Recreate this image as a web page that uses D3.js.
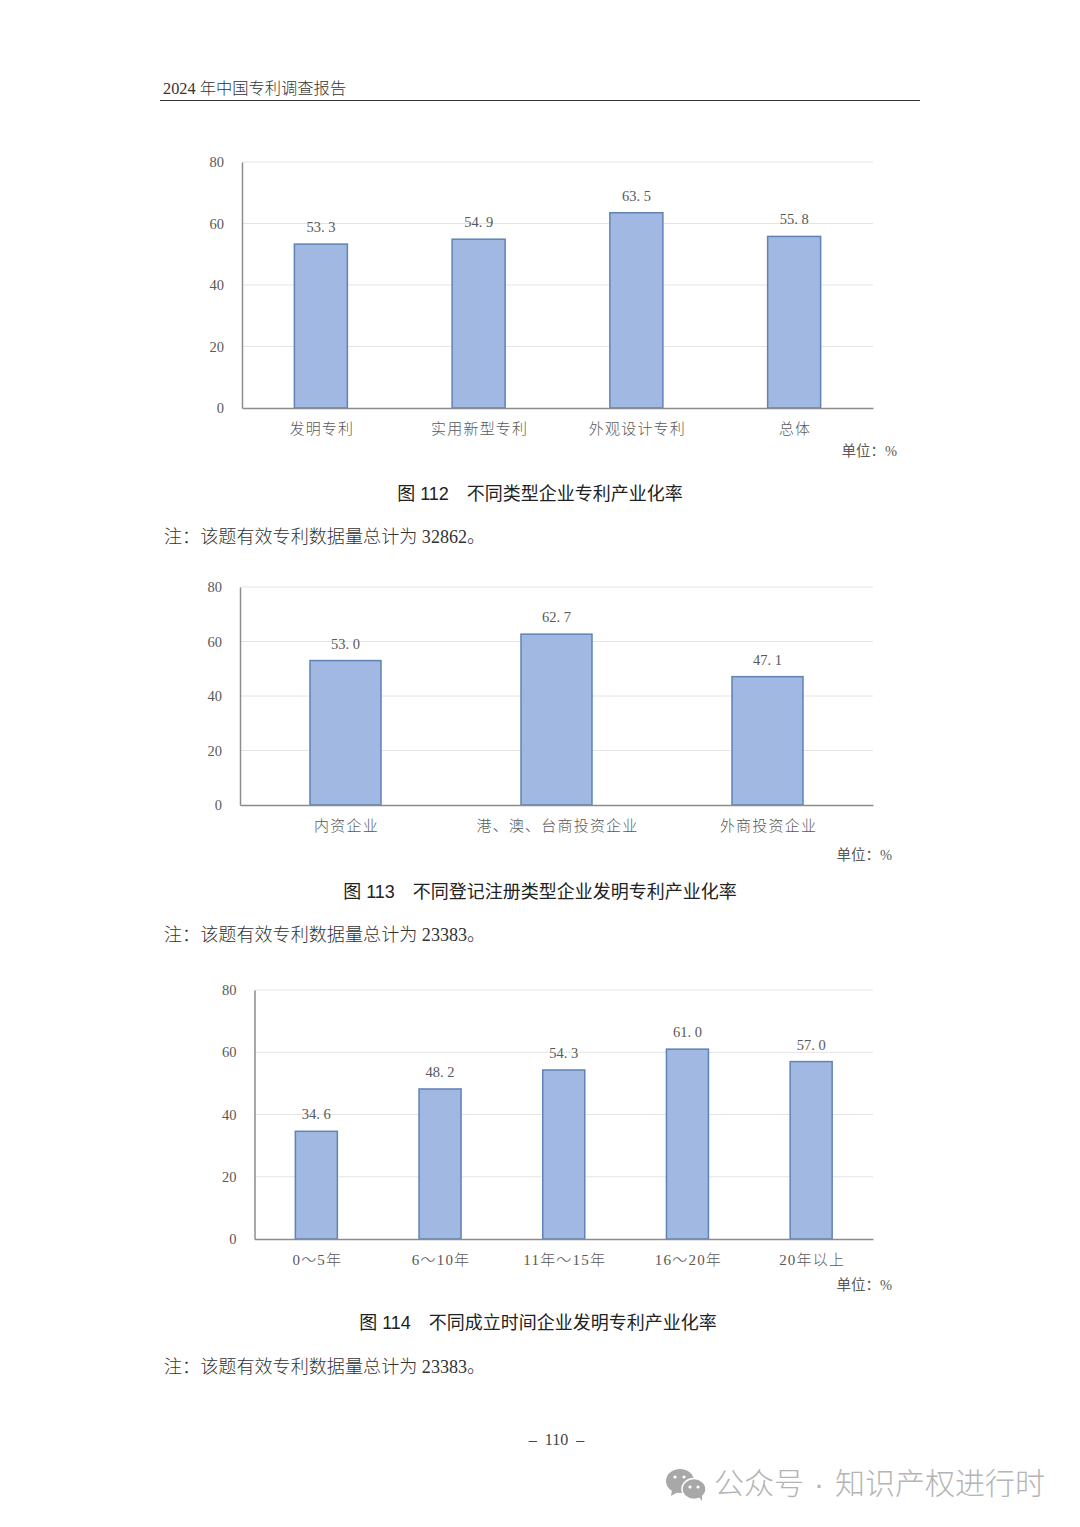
<!DOCTYPE html>
<html>
<head>
<meta charset="utf-8">
<script src="https://cdn.jsdelivr.net/npm/d3@7"></script>
<style>
  html, body { margin: 0; padding: 0; background: #fff; }
  svg { display: block; }
  text { font-family: "Liberation Serif", "Noto Sans CJK SC", serif; }
  .tick text { fill: #595959; }
</style>
</head>
<body>
<svg id="page" width="1080" height="1527"></svg>
<script>
const typeCats = ["发明专利", "实用新型专利", "外观设计专利", "总体"];
const typeVals = [53.3, 54.9, 63.5, 55.8];
const typeLabels = ["53. 3", "54. 9", "63. 5", "55. 8"];

const regCats = ["内资企业", "港、澳、台商投资企业", "外商投资企业"];
const regVals = [53.0, 62.7, 47.1];
const regLabels = ["53. 0", "62. 7", "47. 1"];

const ageCats = ["0～5年", "6～10年", "11年～15年", "16～20年", "20年以上"];
const ageVals = [34.6, 48.2, 54.3, 61.0, 57.0];
const ageLabels = ["34. 6", "48. 2", "54. 3", "61. 0", "57. 0"];

const yTicks = [0, 20, 40, 60, 80];

const svg = d3.select("#page");

// one chart of the page, box is the plot area in page pixels
function drawChart(cats, vals, labels, box, barW, unitX, unitY) {
  const x = d3.scaleBand(cats, [box.left, box.right]);
  const y = d3.scaleLinear([0, 80], [box.bottom, box.top]);
  const g = svg.append("g");

  // grid
  g.append("g").selectAll("line")
    .data(yTicks.slice(1))
    .join("line")
      .attr("x1", box.left)
      .attr("x2", box.right)
      .attr("y1", d => y(d))
      .attr("y2", d => y(d))
      .attr("stroke", "#e4e4e4")
      .attr("stroke-width", 1);

  // bars
  g.append("g").selectAll("rect")
    .data(cats)
    .join("rect")
      .attr("x", d => x(d) + x.bandwidth() / 2 - barW / 2)
      .attr("width", barW)
      .attr("y", (d, i) => y(vals[i]))
      .attr("height", (d, i) => y(0) - y(vals[i]))
      .attr("fill", "#a0b8e2")
      .attr("stroke", "#5f83b4")
      .attr("stroke-width", 1.5);

  // bar values
  g.append("g").selectAll("text")
    .data(cats)
    .join("text")
      .attr("x", d => x(d) + x.bandwidth() / 2)
      .attr("y", (d, i) => y(vals[i]) - 12)
      .attr("text-anchor", "middle")
      .attr("font-size", 14.5)
      .attr("fill", "#595959")
      .text((d, i) => labels[i]);

  const yAxis = g.append("g")
    .attr("transform", `translate(${box.left},0)`)
    .call(d3.axisLeft(y).tickValues(yTicks).tickSize(0).tickPadding(18));
  yAxis.select(".domain").attr("stroke", "#8c8c8c").attr("stroke-width", 1.5);
  yAxis.selectAll("text")
    .attr("font-size", 14.5)
    .style("font-family", "Liberation Serif");

  const xAxis = g.append("g")
    .attr("transform", `translate(0,${box.bottom})`)
    .call(d3.axisBottom(x).tickSize(0).tickPadding(15));
  xAxis.select(".domain").attr("stroke", "#8c8c8c").attr("stroke-width", 1.5);
  xAxis.selectAll("text")
    .attr("font-size", 15)
    .attr("font-weight", 300)
    .attr("letter-spacing", "1.2px")
    .attr("dx", 1);

  svg.append("text")
    .attr("x", unitX).attr("y", unitY)
    .attr("text-anchor", "end")
    .attr("font-size", 14.5)
    .attr("fill", "#595959")
    .text("单位：%");
}

function caption(text, cx, yPos) {
  svg.append("text")
    .attr("x", cx).attr("y", yPos)
    .attr("text-anchor", "middle")
    .attr("font-size", 18)
    .attr("fill", "#222")
    .style("font-family", "'Liberation Sans', 'Noto Sans CJK SC', sans-serif")
    .style("white-space", "pre")
    .text(text);
}

function note(text, yPos) {
  svg.append("text")
    .attr("x", 164).attr("y", yPos)
    .attr("font-size", 18.1)
    .attr("font-weight", 300)
    .attr("fill", "#333")
    .text(text);
}

// page header
svg.append("text")
  .attr("x", 163).attr("y", 94)
  .attr("font-size", 16.3)
  .attr("font-weight", 300)
  .attr("fill", "#333")
  .text("2024 年中国专利调查报告");
svg.append("line")
  .attr("x1", 160).attr("x2", 920)
  .attr("y1", 100.5).attr("y2", 100.5)
  .attr("stroke", "#333").attr("stroke-width", 1.2);

drawChart(typeCats, typeVals, typeLabels,
  { left: 242, right: 873, top: 162, bottom: 408 }, 53, 897, 456);
caption("图 112　不同类型企业专利产业化率", 540, 500);
note("注：该题有效专利数据量总计为 32862。", 543);

drawChart(regCats, regVals, regLabels,
  { left: 240, right: 873, top: 587, bottom: 805 }, 71, 892, 860);
caption("图 113　不同登记注册类型企业发明专利产业化率", 540, 898);
note("注：该题有效专利数据量总计为 23383。", 941);

drawChart(ageCats, ageVals, ageLabels,
  { left: 254.5, right: 873, top: 990, bottom: 1239 }, 42, 892, 1290);
caption("图 114　不同成立时间企业发明专利产业化率", 538, 1329);
note("注：该题有效专利数据量总计为 23383。", 1373);

// page number
svg.append("text")
  .attr("x", 556.5).attr("y", 1445)
  .attr("text-anchor", "middle")
  .attr("font-size", 16)
  .attr("fill", "#444")
  .style("white-space", "pre")
  .text("–  110  –");

// watermark
const mark = svg.append("g").attr("fill", "#a8a8a8");
mark.append("ellipse").attr("cx", 680).attr("cy", 1481).attr("rx", 14).attr("ry", 12);
mark.append("path").attr("d", "M672 1490l-1 6 7-4z");
mark.append("ellipse").attr("cx", 694).attr("cy", 1489)
  .attr("rx", 12).attr("ry", 10.5).attr("stroke", "#fff").attr("stroke-width", 1.5);
mark.append("path").attr("d", "M699 1497l3 4 0-6z");
mark.selectAll("circle")
  .data([[675, 1477], [684, 1477], [690, 1487], [698, 1487]])
  .join("circle")
    .attr("cx", d => d[0]).attr("cy", d => d[1]).attr("r", 1.6).attr("fill", "#fff");
const wm = svg.append("text")
  .attr("y", 1494)
  .attr("font-size", 30)
  .attr("font-weight", 300)
  .attr("fill", "#b4b4b4")
  .style("font-family", "'Noto Sans CJK SC', sans-serif");
wm.append("tspan").attr("x", 714).text("公众号");
wm.append("tspan").attr("x", 814).style("font-family", "'Liberation Sans'").text("·");
wm.append("tspan").attr("x", 835).text("知识产权进行时");
</script>
</body>
</html>
